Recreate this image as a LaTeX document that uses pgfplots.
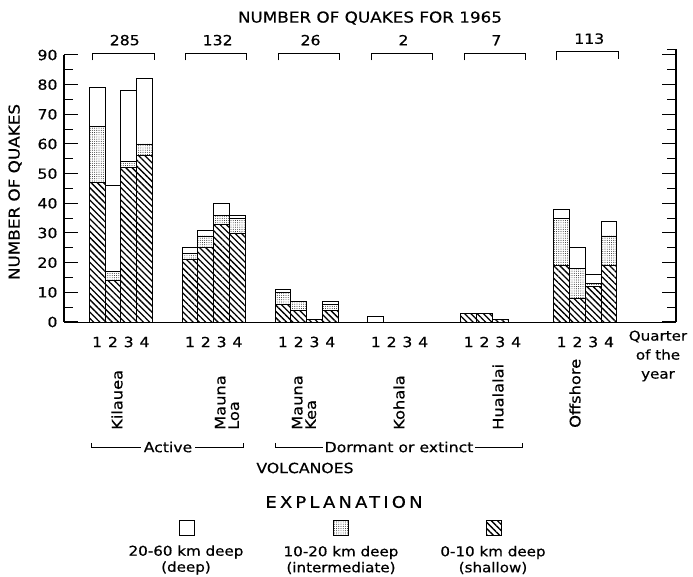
\documentclass[border=0pt]{standalone}
\usepackage{fontspec}
\setmainfont{DejaVu Sans}[FakeStretch=1.12, FakeBold=0.5]
\usepackage{pgfplots}
\pgfplotsset{compat=1.18}
\usetikzlibrary{patterns.meta}
\newcommand{\fs}[1]{\fontsize{#1}{#1}\selectfont}
\tikzset{
 shallow/.style={pattern={Lines[angle=-45,distance=4.4pt,line width=1.3pt]}},
 inter/.style={pattern={Dots[distance=2.2pt,radius=0.45pt]}},
}
\begin{document}
\begin{tikzpicture}
\path[use as bounding box] (0,0) rectangle (693pt,577pt);
% right axis drawn first, in page coordinates
\draw[black, line width=1.4pt] (676pt,255pt) -- (676pt,527pt);
\draw[black, line width=1pt] (676.6pt,527pt) -- (667pt,527pt);
\begin{axis}[
 at={(64pt,255pt)}, anchor=south west, scale only axis,
 width=612pt, height=267pt,
 xmin=-1.095, xmax=37.64, ymin=0, ymax=90,
 axis x line=bottom, axis y line=box,
 axis line style={-},
 x axis line style={line width=0.9pt},
 y axis line style={line width=1.4pt},
 ybar stacked, bar width=1,
 ytick={0,10,...,90}, minor ytick={5,15,...,85},
 yticklabel pos=left,
 tick align=inside,
 major tick length=14pt, minor tick length=9pt,
 every tick/.style={black, line width=1pt},
 yticklabel style={font=\fs{14}, xshift=-3pt},
 /pgf/number format/assume math mode=true,
 xtick={1,2,3,4,6.88,7.88,8.88,9.88,12.76,13.76,14.76,15.76,18.64,19.64,20.64,21.64,24.52,25.52,26.52,27.52,30.4,31.4,32.4,33.4},
 xticklabels={1,2,3,4,1,2,3,4,1,2,3,4,1,2,3,4,1,2,3,4,1,2,3,4},
 x tick style={draw=none},
 xticklabel style={font=\fs{14}, anchor=center, yshift=-20pt},
 clip=false,
]
% shallow 0-10 km
\addplot[draw=black, line width=0.9pt, shallow] coordinates {
 (1,47)(2,14)(3,52)(4,56)
 (6.88,21)(7.88,25)(8.88,33)(9.88,30)
 (12.76,6)(13.76,4)(14.76,1)(15.76,4)
 (18.64,0)(19.64,0)(20.64,0)(21.64,0)
 (24.52,3)(25.52,3)(26.52,1)(27.52,0)
 (30.4,19)(31.4,8)(32.4,12)(33.4,19)};
% intermediate 10-20 km
\addplot[draw=black, line width=0.9pt, inter] coordinates {
 (1,19)(2,3)(3,2)(4,4)
 (6.88,2)(7.88,4)(8.88,3)(9.88,5)
 (12.76,4)(13.76,3)(14.76,0)(15.76,2)
 (18.64,0)(19.64,0)(20.64,0)(21.64,0)
 (24.52,0)(25.52,0)(26.52,0)(27.52,0)
 (30.4,16)(31.4,10)(32.4,1)(33.4,10)};
% deep 20-60 km
\addplot[draw=black, line width=0.9pt, fill=white] coordinates {
 (1,13)(2,29)(3,24)(4,22)
 (6.88,2)(7.88,2)(8.88,4)(9.88,1)
 (12.76,1)(13.76,0)(14.76,0)(15.76,1)
 (18.64,2)(19.64,0)(20.64,0)(21.64,0)
 (24.52,0)(25.52,0)(26.52,0)(27.52,0)
 (30.4,3)(31.4,7)(32.4,3)(33.4,5)};
% brackets and totals
\draw[line width=0.9pt] (axis cs:0.7,88.2) -- (axis cs:0.7,90.6) -- (axis cs:4.6,90.6) -- (axis cs:4.6,88.2);
\draw[line width=0.9pt] (axis cs:6.58,88.2) -- (axis cs:6.58,90.6) -- (axis cs:10.48,90.6) -- (axis cs:10.48,88.2);
\draw[line width=0.9pt] (axis cs:12.46,88.2) -- (axis cs:12.46,90.6) -- (axis cs:16.36,90.6) -- (axis cs:16.36,88.2);
\draw[line width=0.9pt] (axis cs:18.34,88.2) -- (axis cs:18.34,90.6) -- (axis cs:22.24,90.6) -- (axis cs:22.24,88.2);
\draw[line width=0.9pt] (axis cs:24.22,88.2) -- (axis cs:24.22,90.6) -- (axis cs:28.12,90.6) -- (axis cs:28.12,88.2);
\draw[line width=0.9pt] (axis cs:30.1,88.2) -- (axis cs:30.1,91.2) -- (axis cs:34.0,91.2) -- (axis cs:34.0,88.8);
\node[font=\fs{14}] at (axis cs:2.75,95) {285};
\node[font=\fs{14}] at (axis cs:8.63,95) {132};
\node[font=\fs{14}] at (axis cs:14.51,95) {26};
\node[font=\fs{14}] at (axis cs:20.39,95) {2};
\node[font=\fs{14}] at (axis cs:26.27,95) {7};
\node[font=\fs{14}] at (axis cs:32.15,95.5) {113};
\end{axis}
% texts
\node[font=\fs{15}] at (370pt,559pt) {NUMBER OF QUAKES FOR 1965};
\node[font=\fs{15}, rotate=90] at (15pt,385pt) {NUMBER OF QUAKES};
\node[font=\fs{14.5}, rotate=90, anchor=west, inner sep=0pt] at (117pt,147pt) {Kilauea};
\node[font=\fs{14.5}, rotate=90, anchor=west, inner sep=0pt, align=left] at (227pt,147pt) {Mauna\\[-1pt]Loa};
\node[font=\fs{14.5}, rotate=90, anchor=west, inner sep=0pt, align=left] at (304pt,147pt) {Mauna\\[-1pt]Kea};
\node[font=\fs{14.5}, rotate=90, anchor=west, inner sep=0pt] at (399pt,147pt) {Kohala};
\node[font=\fs{14.5}, rotate=90, anchor=west, inner sep=0pt] at (498pt,147pt) {Hualalai};
\node[font=\fs{14.5}, rotate=90, anchor=west, inner sep=0pt] at (575pt,149pt) {Offshore};
\node[font=\fontsize{13.5}{19}\selectfont, align=center] at (658pt,221pt) {Quarter\\of the\\year};
\draw[line width=0.8pt] (91pt,134pt) -- (91pt,130pt) -- (243pt,130pt) -- (243pt,134pt);
\node[font=\fs{14}, fill=white, inner xsep=3pt] at (168pt,130pt) {Active};
\draw[line width=0.8pt] (275pt,134pt) -- (275pt,130pt) -- (522pt,130pt) -- (522pt,134pt);
\node[font=\fs{14}, fill=white, inner xsep=2pt] at (399pt,130pt) {Dormant or extinct};
\node[font=\fs{14}] at (305pt,109pt) {VOLCANOES};
\node[font=\fs{16}\addfontfeature{LetterSpace=20}] at (344pt,75pt) {EXPLANATION};
% legend
\draw[line width=0.8pt, fill=white] (179.5pt,41.5pt) rectangle (194.5pt,56.5pt);
\draw[line width=0.8pt, inter] (333.5pt,41.5pt) rectangle (348.5pt,56.5pt);
\draw[line width=0.8pt, shallow] (486.5pt,41.5pt) rectangle (501.5pt,56.5pt);
\node[font=\fontsize{13.5}{16}\selectfont, align=center] at (186pt,17pt) {20-60 km deep\\(deep)};
\node[font=\fontsize{13.5}{16}\selectfont, align=center] at (341pt,17pt) {10-20 km deep\\(intermediate)};
\node[font=\fontsize{13.5}{16}\selectfont, align=center] at (493pt,17pt) {0-10 km deep\\(shallow)};
\end{tikzpicture}
\end{document}
